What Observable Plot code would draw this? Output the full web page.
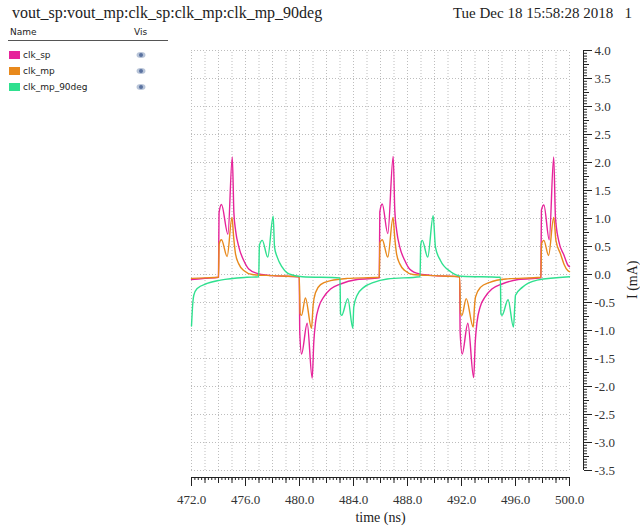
<!DOCTYPE html>
<html><head><meta charset="utf-8">
<script src="https://cdn.jsdelivr.net/npm/d3@7"></script>
<script src="https://cdn.jsdelivr.net/npm/@observablehq/plot@0.6"></script>
<style>
body{margin:0;background:#fff;}
#wrap{position:relative;width:640px;height:531px;overflow:hidden;background:#fff;}
#chart{position:absolute;left:0;top:0;}
#chart svg, #chart svg text{font-family:"Liberation Serif",serif !important;}
.hdr{position:absolute;font-family:"Liberation Serif",serif;color:#222;white-space:pre;line-height:16px;}
.leg{position:absolute;font-family:"DejaVu Sans",sans-serif;font-size:9px;color:#222;line-height:10px;white-space:pre;}
</style></head><body>
<div id="wrap"><div id="chart"></div></div>
<script>
// ---- text ----
const titleText = "vout_sp:vout_mp:clk_sp:clk_mp:clk_mp_90deg";
const dateText = "Tue Dec 18 15:58:28 2018   1";
const xAxisLabel = "time (ns)";
const yAxisLabel = "I (mA)";
const seriesNames = ["clk_sp", "clk_mp", "clk_mp_90deg"];
const seriesColors = ["#e6239a", "#e8891c", "#2fe08f"];
const xTickLabels = [472, 476, 480, 484, 488, 492, 496, 500];
const yTickLabels = [4.0, 3.5, 3.0, 2.5, 2.0, 1.5, 1.0, 0.5, 0.0, -0.5, -1.0, -1.5, -2.0, -2.5, -3.0, -3.5];

// ---- series: time (ns) / current (mA) ----
const clkSpT = [472.0,473.0,474.0,474.04,474.22,474.70,475.02,475.14,475.27,475.52,475.87,476.24,477.0,478.0,479.98,
  480.02,480.15,480.57,480.94,481.06,481.19,481.43,481.80,482.30,483.04,484.27,485.91,
  485.95,486.13,486.54,486.94,487.06,487.20,487.44,487.80,488.15,488.90,490.0,491.86,
  491.90,492.05,492.47,492.90,493.02,493.15,493.38,493.75,494.25,495.0,496.2,497.88,
  497.92,498.10,498.50,498.83,498.96,499.20,499.60,499.90,500.0];
const clkSpI = [-0.09,-0.07,-0.05,1.10,1.25,0.72,2.10,1.10,0.78,0.48,0.25,0.10,0.01,-0.02,-0.04,
  -1.03,-1.42,-0.87,-1.85,-1.20,-0.85,-0.58,-0.40,-0.26,-0.17,-0.09,-0.06,
  1.12,1.26,0.73,2.11,1.14,0.78,0.48,0.25,0.10,0.01,-0.02,-0.04,
  -1.03,-1.42,-0.87,-1.84,-1.20,-0.85,-0.58,-0.40,-0.26,-0.17,-0.09,-0.06,
  1.15,1.24,0.62,2.10,1.02,0.60,0.34,0.16,0.14];

const clkMpT = [472.0,473.0,474.0,474.05,474.22,474.64,475.00,475.12,475.26,475.50,475.87,476.50,478.0,479.98,
  480.05,480.15,480.44,480.89,481.01,481.19,481.56,482.30,483.53,485.91,
  485.96,486.13,486.54,486.93,487.05,487.19,487.43,487.80,488.40,490.0,491.86,
  491.93,492.03,492.35,492.87,492.97,493.04,493.40,494.10,495.30,497.88,
  497.93,498.10,498.45,498.83,499.00,499.33,499.60,499.87,500.0];
const clkMpI = [-0.07,-0.06,-0.05,0.55,0.62,0.32,1.02,0.67,0.37,0.19,0.07,0.0,-0.02,-0.04,
  -0.70,-0.73,-0.42,-0.96,-0.55,-0.32,-0.18,-0.11,-0.07,-0.05,
  0.57,0.62,0.31,1.02,0.67,0.37,0.19,0.07,0.0,-0.02,-0.04,
  -0.70,-0.73,-0.43,-0.94,-0.55,-0.40,-0.23,-0.14,-0.08,-0.05,
  0.55,0.61,0.34,1.02,0.60,0.37,0.18,0.07,0.05];

const clk90T = [472.0,472.10,472.17,472.42,473.16,474.15,476.10,476.98,
  477.03,477.24,477.65,478.05,478.15,478.35,478.72,479.21,480.20,483.00,
  483.04,483.12,483.58,483.95,484.02,484.27,484.76,485.50,486.50,488.93,
  488.98,489.09,489.50,489.90,490.07,490.44,491.20,492.00,494.88,
  494.92,495.00,495.45,495.85,495.95,496.00,496.50,497.60,500.0];
const clk90I = [-0.92,-0.50,-0.37,-0.25,-0.16,-0.10,-0.05,-0.04,
  0.52,0.61,0.31,1.04,0.49,0.31,0.13,0.01,-0.04,-0.06,
  -0.70,-0.73,-0.43,-0.96,-0.58,-0.37,-0.23,-0.14,-0.08,-0.04,
  0.53,0.61,0.31,1.05,0.49,0.25,0.05,-0.03,-0.05,
  -0.70,-0.73,-0.45,-0.94,-0.55,-0.37,-0.23,-0.10,-0.04];

const data = [
  ...clkSpT.map((t, i) => ({series: seriesNames[0], t, v: clkSpI[i]})),
  ...clkMpT.map((t, i) => ({series: seriesNames[1], t, v: clkMpI[i]})),
  ...clk90T.map((t, i) => ({series: seriesNames[2], t, v: clk90I[i]}))
];

const xMin = 472, xMax = 500, yMin = -3.5, yMax = 4.0;
const xGrid = d3.range(xMin, xMax + 0.001, 1);
const xMinor = d3.range(xMin, xMax + 0.001, 0.25);
const yMinor = d3.range(yMin, yMax + 0.001, 0.05);
const yMed = d3.range(yMin, yMax + 0.001, 0.25);
const fmt = d => d.toFixed(1);
const serif = "Liberation Serif";
const gridStyle = {stroke: "#bdbdbd", strokeWidth: 1, strokeDasharray: "1,2"};

const plot = Plot.plot({
  width: 640, height: 531,
  marginTop: 50, marginBottom: 61, marginLeft: 191, marginRight: 71,
  style: "font-family: 'Liberation Serif', serif; font-size: 13px; color: #333; background: transparent; overflow: visible;",
  x: {domain: [xMin, xMax], axis: null},
  y: {domain: [yMin, yMax], axis: null},
  color: {domain: seriesNames, range: seriesColors},
  marks: [
    Plot.ruleY(yTickLabels, {x1: xMin, x2: xMax, ...gridStyle}),
    Plot.ruleX(xGrid, {y1: yMin, y2: yMax, ...gridStyle}),
    Plot.line(data, {x: "t", y: "v", z: "series", stroke: "series", strokeWidth: 1.4, strokeLinejoin: "round", curve: "monotone-x"}),
    // bottom axis
    Plot.ruleY([yMin], {dy: 7, stroke: "#222"}),
    Plot.axisX({ticks: xMinor, tickSize: 3, text: null, label: null, dy: 7, stroke: "#222"}),
    Plot.axisX({ticks: xGrid, tickSize: 6, text: null, label: null, dy: 7, stroke: "#222"}),
    Plot.axisX({ticks: xTickLabels, tickSize: 9, tickPadding: 8, dy: 7, tickFormat: fmt, label: null, stroke: "#222", fill: "#333", fontFamily: serif, fontSize: 13}),
    Plot.text([xAxisLabel], {frameAnchor: "bottom", dy: 47, lineAnchor: "middle", fontSize: 14, fill: "#222", fontFamily: serif}),
    // right axis
    Plot.ruleX([xMax], {dx: 14, y1: yMin, y2: yMax, stroke: "#222"}),
    Plot.axisY({anchor: "right", ticks: yMinor, tickSize: 3, text: null, label: null, dx: 14, stroke: "#222"}),
    Plot.axisY({anchor: "right", ticks: yMed, tickSize: 5, text: null, label: null, dx: 14, stroke: "#222"}),
    Plot.axisY({anchor: "right", ticks: yTickLabels, tickSize: 8, tickPadding: 3, dx: 14, tickFormat: fmt, label: null, stroke: "#222", fill: "#333", fontFamily: serif, fontSize: 13}),
    Plot.text([yAxisLabel], {frameAnchor: "right", dx: 63, rotate: -90, fontSize: 14, fill: "#222", fontFamily: serif})
  ]
});
const wrap = document.getElementById("wrap");
document.getElementById("chart").appendChild(plot);

function el(cls, txt, css) {
  const d = document.createElement("div");
  d.className = cls; d.textContent = txt; d.style.cssText = css;
  wrap.appendChild(d); return d;
}
el("hdr", titleText, "left:12px;top:5px;font-size:16px;");
el("hdr", dateText, "right:8px;top:5px;font-size:15px;");
el("leg", "Name", "left:10px;top:27px;");
el("leg", "Vis", "left:134px;top:27px;");
const ln = document.createElement("div");
ln.style.cssText = "position:absolute;left:8px;top:40px;width:160px;height:1px;background:#555;";
wrap.appendChild(ln);
seriesNames.forEach((name, i) => {
  const y = 55 + 16 * i;
  const sw = document.createElement("div");
  sw.style.cssText = `position:absolute;left:9px;top:${y - 4}px;width:11px;height:8px;background:${seriesColors[i]};`;
  wrap.appendChild(sw);
  el("leg", name, `left:23px;top:${y - 5}px;`);
  const eye = document.createElementNS("http://www.w3.org/2000/svg", "svg");
  eye.setAttribute("width", 12); eye.setAttribute("height", 8);
  eye.style.cssText = `position:absolute;left:135px;top:${y - 4}px;`;
  eye.innerHTML = '<ellipse cx="6" cy="4" rx="4.5" ry="3" fill="#b8c4d8"/><circle cx="6" cy="4" r="2" fill="#5a72a0"/>';
  wrap.appendChild(eye);
});
</script>
</body></html>
